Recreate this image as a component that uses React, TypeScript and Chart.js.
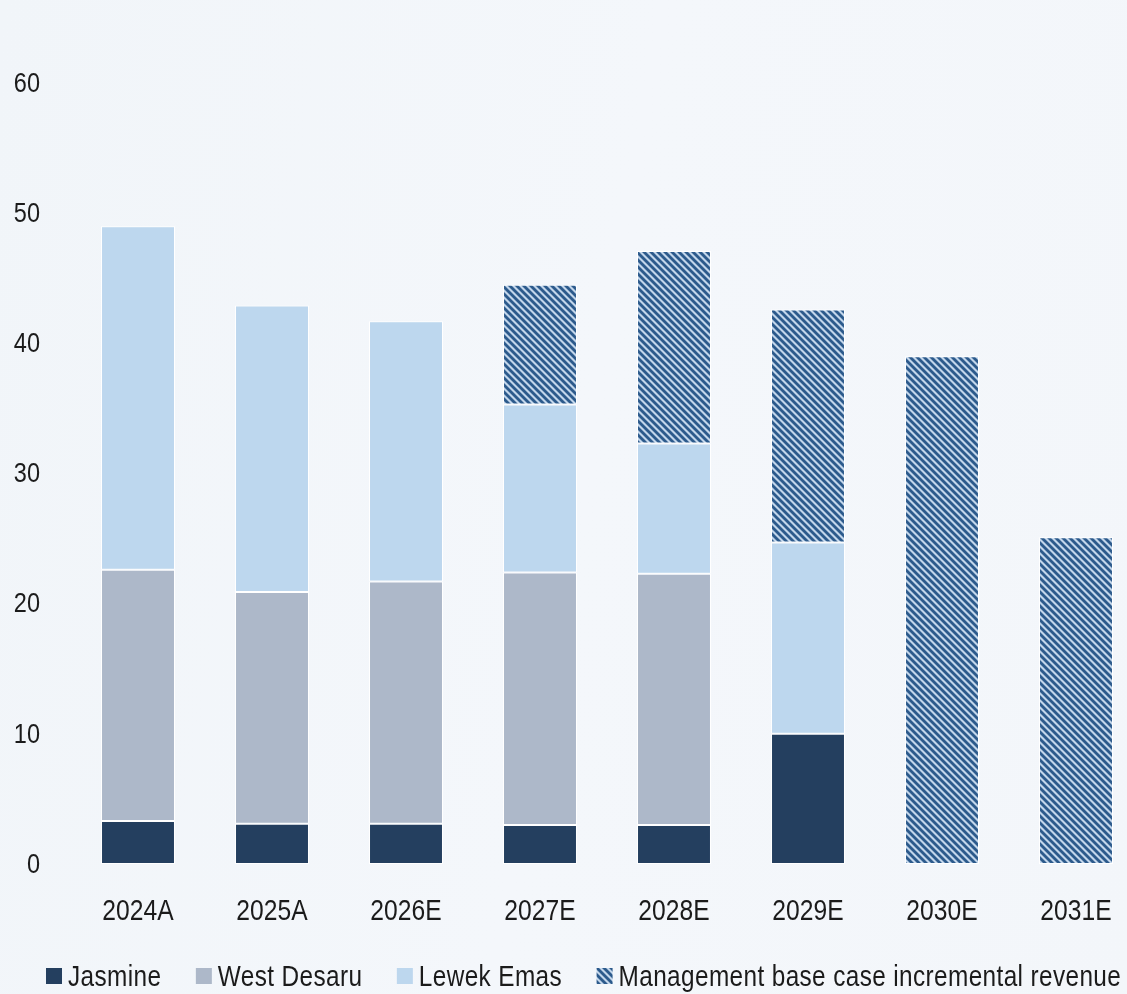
import React, { useEffect, useRef } from "react";
import { Chart, registerables } from "chart.js";

Chart.register(...registerables);

const categories = ["2024A", "2025A", "2026E", "2027E", "2028E", "2029E", "2030E", "2031E"];
const jasmine = [3.3, 3.1, 3.1, 3.0, 3.0, 10.0, null, null];
const westDesaru = [19.3, 17.8, 18.6, 19.4, 19.3, null, null, null];
const lewekEmas = [26.4, 22.0, 20.0, 12.9, 10.0, 14.7, null, null];
const managementIncremental = [null, null, null, 9.2, 14.8, 17.9, 39.0, 25.1];
const seriesLabels = ["Jasmine", "West Desaru", "Lewek Emas", "Management base case incremental revenue"];
const yTicks = [0, 10, 20, 30, 40, 50, 60];

const FONT = "'Liberation Sans', Arial, sans-serif";
const TEXT = "#1b1b1b";

function makeHatch(): CanvasPattern | string {
  const c = document.createElement("canvas");
  const s = 7;
  c.width = s;
  c.height = s;
  const g = c.getContext("2d");
  if (!g) return "#2d5a8a";
  g.fillStyle = "#c3d6eb";
  g.fillRect(0, 0, s, s);
  g.strokeStyle = "#2c5a8c";
  g.lineWidth = 2.8;
  for (let k = -1; k <= 1; k++) {
    g.beginPath();
    g.moveTo(k * s - 1, -1);
    g.lineTo(k * s + s + 1, s + 1);
    g.stroke();
  }
  const p = g.createPattern(c, "repeat");
  return p || "#2d5a8a";
}

function setFont(ctx: CanvasRenderingContext2D, size: number, spacing: number) {
  ctx.font = `${size}px ${FONT}`;
  (ctx as any).letterSpacing = `${spacing}px`;
}

function narrowText(
  ctx: CanvasRenderingContext2D,
  text: string,
  x: number,
  y: number,
  size: number,
  sx: number,
  align: CanvasTextAlign,
  baseline: CanvasTextBaseline,
  spacing = 0
) {
  ctx.save();
  setFont(ctx, size, spacing);
  ctx.textAlign = align;
  ctx.textBaseline = baseline;
  ctx.fillStyle = TEXT;
  ctx.translate(x, y);
  ctx.scale(sx, 1);
  ctx.fillText(text, 0, 0);
  ctx.restore();
}

function narrowWidth(ctx: CanvasRenderingContext2D, text: string, size: number, sx: number, spacing = 0) {
  ctx.save();
  setFont(ctx, size, spacing);
  const w = ctx.measureText(text).width * sx;
  ctx.restore();
  return w;
}

const labelsPlugin = {
  id: "narrowLabels",
  afterDraw(chart: any) {
    const ctx = chart.ctx as CanvasRenderingContext2D;
    const xs = chart.scales.x;
    const ys = chart.scales.y;
    yTicks.forEach((v) => {
      narrowText(ctx, String(v), 40, ys.getPixelForValue(v) + 1, 28, 0.84, "right", "middle");
    });
    categories.forEach((c, i) => {
      narrowText(ctx, c, xs.getPixelForValue(i), xs.top + 48, 29, 0.85, "center", "middle");
    });
    const ds = chart.data.datasets;
    const box = 16;
    const gapBoxText = 6;
    const gapItems = 34.5;
    const size = 29;
    const sx = 0.84;
    const spacing = 0.45;
    let x = 46;
    const baseY = 986;
    ds.forEach((d: any) => {
      ctx.save();
      ctx.fillStyle = d.backgroundColor;
      ctx.fillRect(x, 968, box, box);
      ctx.restore();
      x += box + gapBoxText;
      narrowText(ctx, d.label, x, baseY, size, sx, "left", "alphabetic", spacing);
      x += narrowWidth(ctx, d.label, size, sx, spacing) + gapItems;
    });
  },
};

export default function App() {
  const ref = useRef<HTMLCanvasElement | null>(null);

  useEffect(() => {
    if (!ref.current) return;
    const hatch = makeHatch();
    const common = {
      borderColor: "#ffffff",
      borderWidth: 1,
      borderSkipped: false as const,
      barPercentage: 0.552,
      categoryPercentage: 1,
    };
    const chart = new Chart(ref.current, {
      type: "bar",
      data: {
        labels: categories,
        datasets: [
          { label: seriesLabels[0], data: jasmine, backgroundColor: "#243f5f", ...common },
          { label: seriesLabels[1], data: westDesaru, backgroundColor: "#adb8c9", ...common },
          { label: seriesLabels[2], data: lewekEmas, backgroundColor: "#bdd7ee", ...common },
          { label: seriesLabels[3], data: managementIncremental, backgroundColor: hatch as any, ...common },
        ],
      },
      options: {
        responsive: false,
        animation: false,
        layout: { padding: { top: 83, left: 0, right: 7, bottom: 0 } },
        plugins: {
          legend: { display: false },
          tooltip: { enabled: false },
        },
        scales: {
          x: {
            stacked: true,
            grid: { display: false, drawTicks: false },
            border: { display: false },
            ticks: { display: false },
            afterFit: (scale: any) => {
              scale.height = 130;
            },
          },
          y: {
            stacked: true,
            min: yTicks[0],
            max: yTicks[yTicks.length - 1],
            grid: { display: false, drawTicks: false },
            border: { display: false },
            ticks: { display: false, stepSize: 10 },
            afterFit: (scale: any) => {
              scale.width = 71;
            },
          },
        },
      },
      plugins: [labelsPlugin],
    });
    return () => chart.destroy();
  }, []);

  return (
    <div
      style={{
        position: "fixed",
        left: 0,
        top: 0,
        width: 1150,
        height: 994,
        background: "linear-gradient(100deg, #f1f5f9 0%, #f4f7fb 50%, #f3f6fa 100%)",
      }}
    >
      <canvas ref={ref} width={1150} height={994} style={{ display: "block" }} />
    </div>
  );
}
